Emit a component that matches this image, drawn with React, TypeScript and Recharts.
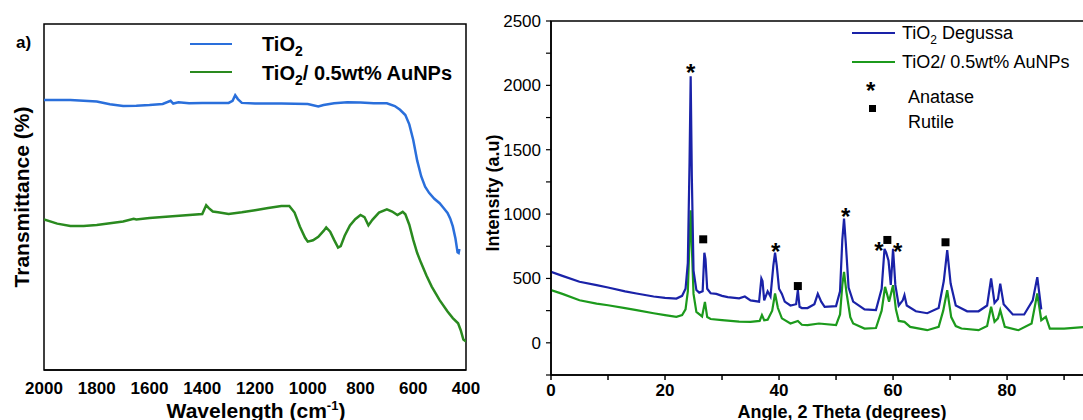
import React from 'react';
import {
  LineChart,
  ComposedChart,
  Line,
  Scatter,
  XAxis,
  YAxis,
  ReferenceArea,
} from 'recharts';

// ---- FTIR (left panel) ----
const ftirWaveTiO2 = [2000, 1900, 1800, 1750, 1700, 1650, 1600, 1550, 1520, 1510, 1490, 1450, 1400, 1300, 1285, 1275, 1265, 1250, 1200, 1100, 1000, 960, 940, 900, 850, 800, 750, 700, 670, 650, 630, 615, 600, 585, 570, 555, 540, 520, 500, 485, 470, 460, 450, 440, 432, 428, 425];
const ftirTransTiO2 = [78.0, 78.0, 77.6, 76.8, 76.3, 76.4, 76.6, 76.9, 77.8, 77.0, 77.4, 77.1, 77.2, 77.2, 77.8, 79.4, 78.3, 77.2, 77.0, 77.0, 76.9, 76.2, 76.6, 77.1, 77.4, 77.3, 77.1, 77.1, 76.3, 75.2, 73.7, 71.0, 66.5, 60.5, 56.0, 53.0, 51.2, 49.5, 48.2, 46.8, 45.4, 43.8, 41.5, 38.0, 34.0, 33.8, 35.0];

const ftirWaveAu = [2000, 1950, 1900, 1850, 1800, 1750, 1700, 1660, 1650, 1600, 1500, 1400, 1385, 1375, 1360, 1340, 1300, 1250, 1200, 1150, 1100, 1070, 1050, 1030, 1010, 1000, 980, 960, 940, 930, 915, 900, 885, 875, 860, 840, 820, 800, 785, 770, 755, 730, 700, 680, 660, 640, 630, 615, 600, 585, 570, 550, 530, 500, 470, 450, 430, 420, 410, 400];
const ftirTransAu = [43.5, 42.3, 41.6, 41.6, 41.9, 42.4, 42.9, 43.7, 43.5, 43.9, 44.5, 45.1, 47.6, 46.8, 45.8, 45.6, 45.1, 45.6, 46.2, 46.8, 47.4, 47.4, 45.5, 41.5, 38.2, 37.1, 37.5, 38.5, 40.2, 41.2, 40.0, 37.6, 35.4, 35.8, 38.8, 41.8, 43.6, 44.8, 44.2, 41.8, 43.4, 45.5, 46.4, 45.8, 44.8, 45.7, 45.0, 42.0, 37.6, 33.8, 30.9, 27.3, 24.1, 20.2, 16.9, 15.0, 13.5, 11.5, 8.8, 8.2];

const ftirTicks = [2000, 1800, 1600, 1400, 1200, 1000, 800, 600, 400];

// ---- XRD (right panel) ----
const xrdAngleTiO2 = [0, 2, 5, 8, 10, 13, 15, 18, 20, 22, 23, 23.6, 24.0, 24.3, 24.5, 24.7, 25.0, 25.5, 26.0, 26.6, 26.9, 27.1, 27.4, 28, 29, 30, 31, 33, 34, 35, 36.5, 36.9, 37.1, 37.4, 38, 38.5, 39.0, 39.3, 39.6, 40.0, 40.5, 41, 42, 43.0, 43.3, 43.6, 44, 45, 46.2, 46.8, 47.4, 48, 50, 50.7, 51.1, 51.4, 51.7, 52.2, 53, 55, 57, 58.0, 58.5, 58.8, 59.2, 59.6, 60.0, 60.4, 61, 61.7, 62.0, 62.4, 64, 66, 68, 68.9, 69.5, 70.1, 71, 73, 75, 76.5, 77.2, 77.8, 78.4, 78.8, 79.4, 81, 83, 84.5, 85.3, 86];
const xrdIntTiO2 = [551, 520, 474, 448, 430, 400, 383, 360, 349, 344, 365, 420, 620, 1400, 2070, 1300, 560, 410, 390, 400, 700, 650, 420, 385, 380, 365, 355, 345, 360, 330, 320, 500, 480, 330, 400, 360, 600, 700, 600, 420, 380, 320, 290, 300, 410, 280, 270, 270, 300, 380, 320, 280, 285, 400, 800, 965, 780, 430, 320, 260, 255, 420, 730, 700, 640, 450, 730, 450, 290, 330, 370, 290, 245, 230, 270, 480, 720, 460, 290, 245, 245, 290, 500, 310, 340, 460, 300, 220, 220, 330, 510, 260];

const xrdAngleAu = [0, 2, 5, 8, 10, 13, 15, 18, 20, 22, 23, 23.6, 24.0, 24.3, 24.5, 24.7, 25.0, 25.5, 26.5, 27.0, 27.4, 28, 30, 33, 35, 36.6, 37.0, 37.4, 38, 38.8, 39.3, 39.8, 40.5, 42, 43.3, 44, 45, 47, 50, 50.7, 51.1, 51.4, 51.8, 52.5, 53, 55, 57, 58.0, 58.6, 59.3, 60.0, 60.5, 61, 62, 63, 66, 68, 68.8, 69.5, 70.2, 71, 72, 75, 76.5, 77.2, 77.8, 78.4, 78.8, 79.6, 82, 84.3, 85.3, 86, 86.8, 87.5, 90, 94];
const xrdIntAu = [409, 380, 331, 305, 292, 270, 254, 230, 215, 202, 215, 260, 400, 800, 1030, 750, 380, 240, 205, 318, 200, 185, 176, 165, 163, 170, 215, 175, 180, 250, 383, 270, 190, 150, 170, 140, 137, 150, 137, 220, 450, 551, 400, 200, 150, 111, 115, 250, 435, 320, 448, 260, 170, 163, 124, 98, 124, 250, 409, 200, 130, 111, 98, 130, 280, 163, 190, 254, 124, 98, 150, 383, 176, 202, 111, 111, 124];

const anataseAngle = [24.5, 39.4, 51.7, 57.5, 60.8];
const anataseInt = [2135, 747, 1020, 754, 747];
const rutileAngle = [26.7, 43.3, 59.0, 69.2];
const rutileInt = [804, 441, 799, 781];

const xrdYTicks = [-250, 0, 250, 500, 750, 1000, 1250, 1500, 1750, 2000, 2250, 2500];
const xrdXTicks = [0, 10, 20, 30, 40, 50, 60, 70, 80, 90];

const zip = (xs: number[], ys: number[]) => xs.map((x, i) => ({ x, y: ys[i] }));

const ftirTiO2 = zip(ftirWaveTiO2, ftirTransTiO2);
const ftirAu = zip(ftirWaveAu, ftirTransAu);
const xrdTiO2 = zip(xrdAngleTiO2, xrdIntTiO2);
const xrdAu = zip(xrdAngleAu, xrdIntAu);
const anatase = zip(anataseAngle, anataseInt);
const rutile = zip(rutileAngle, rutileInt);

const FONT = '"Liberation Sans", Arial, sans-serif';

const StarShape = (props: any) => {
  const { cx, cy } = props;
  return (
    <text x={cx} y={cy + 13} textAnchor="middle" fontSize={24} fontWeight={700} fill="#000" fontFamily={FONT}>
      *
    </text>
  );
};

const SquareShape = (props: any) => {
  const { cx, cy } = props;
  return <rect x={cx - 4} y={cy - 4} width={8} height={8} fill="#000" />;
};

const FtirLegend = () => (
  <div style={{ position: 'absolute', left: 190, top: 30, width: 290, height: 60, fontWeight: 700, fontSize: 20, color: '#000' }}>
    <div style={{ position: 'absolute', left: 0, top: 13, width: 42, height: 2, background: '#2a6fdb' }} />
    <div style={{ position: 'absolute', left: 72, top: 0, lineHeight: '28px', whiteSpace: 'nowrap' }}>
      TiO<sub style={{ fontSize: 14 }}>2</sub>
    </div>
    <div style={{ position: 'absolute', left: 0, top: 41, width: 42, height: 2, background: '#2a8a1f' }} />
    <div style={{ position: 'absolute', left: 72, top: 29, lineHeight: '28px', whiteSpace: 'nowrap' }}>
      TiO<sub style={{ fontSize: 14 }}>2</sub>/ 0.5wt% AuNPs
    </div>
  </div>
);

const XrdLegend = () => (
  <div style={{ position: 'absolute', left: 372, top: 20, width: 260, height: 115, fontSize: 18, color: '#000' }}>
    <div style={{ position: 'absolute', left: 0, top: 12, width: 43, height: 2, background: '#1a22a8' }} />
    <div style={{ position: 'absolute', left: 50, top: 0, lineHeight: '26px', whiteSpace: 'nowrap' }}>
      TiO<sub style={{ fontSize: 12 }}>2</sub> Degussa
    </div>
    <div style={{ position: 'absolute', left: 0, top: 41, width: 43, height: 2, background: '#1c9a1c' }} />
    <div style={{ position: 'absolute', left: 50, top: 29, lineHeight: '26px', whiteSpace: 'nowrap' }}>
      TiO2/ 0.5wt% AuNPs
    </div>
    <div style={{ position: 'absolute', left: 14, top: 58, fontSize: 24, fontWeight: 700, lineHeight: '26px' }}>*</div>
    <div style={{ position: 'absolute', left: 56, top: 65, lineHeight: '24px' }}>Anatase</div>
    <div style={{ position: 'absolute', left: 17, top: 85, width: 7, height: 7, background: '#000' }} />
    <div style={{ position: 'absolute', left: 56, top: 90, lineHeight: '24px' }}>Rutile</div>
  </div>
);

const boldTick = { fontSize: 17, fontWeight: 700, fill: '#000', fontFamily: FONT };

const App: React.FC = () => {
  return (
    <div style={{ position: 'absolute', left: 0, top: 0, width: 1083, height: 420, overflow: 'hidden', background: '#fff', fontFamily: FONT }}>
      {/* Left panel: FTIR */}
      <div style={{ position: 'absolute', left: 0, top: 0, width: 480, height: 420 }}>
        <LineChart width={480} height={420} margin={{ top: 24, right: 14, left: 44, bottom: 0 }}>
          <XAxis
            dataKey="x"
            type="number"
            domain={[400, 2000]}
            reversed
            ticks={ftirTicks}
            tickLine={false}
            tickSize={0}
            tickMargin={12}
            height={50}
            axisLine={{ stroke: '#000', strokeWidth: 1.5 }}
            tick={boldTick}
            allowDataOverflow
          />
          <YAxis type="number" dataKey="y" domain={[0, 100]} hide allowDataOverflow />
          <ReferenceArea x1={2000} x2={400} y1={0} y2={100} fill="none" stroke="#000" strokeWidth={1.5} ifOverflow="visible" />
          <Line data={ftirTiO2} dataKey="y" type="linear" stroke="#2a6fdb" strokeWidth={2.5} dot={false} isAnimationActive={false} />
          <Line data={ftirAu} dataKey="y" type="linear" stroke="#2a8a1f" strokeWidth={2.5} dot={false} isAnimationActive={false} />
        </LineChart>
        <FtirLegend />
        <div style={{ position: 'absolute', left: 16, top: 31, fontSize: 17, fontWeight: 700, lineHeight: '24px' }}>a)</div>
        <div
          style={{
            position: 'absolute',
            left: 22,
            top: 197,
            transform: 'translate(-50%, -50%) rotate(-90deg)',
            fontSize: 21,
            fontWeight: 700,
            whiteSpace: 'nowrap',
          }}
        >
          Transmittance (%)
        </div>
        <div
          style={{
            position: 'absolute',
            left: 256,
            top: 410,
            transform: 'translate(-50%, -50%)',
            fontSize: 21,
            fontWeight: 700,
            whiteSpace: 'nowrap',
          }}
        >
          Wavelength (cm<sup style={{ fontSize: 13 }}>-1</sup>)
        </div>
      </div>

      {/* Right panel: XRD */}
      <div style={{ position: 'absolute', left: 480, top: 0, width: 620, height: 420 }}>
        <ComposedChart width={620} height={420} margin={{ top: 21, right: 0, left: 0, bottom: 0 }}>
          <XAxis
            dataKey="x"
            type="number"
            domain={[0, 96.3]}
            ticks={xrdXTicks}
            tickFormatter={(v: number) => (v % 20 === 0 ? String(v) : '')}
            tickSize={5}
            tickMargin={4}
            height={45}
            axisLine={{ stroke: '#000', strokeWidth: 1.5 }}
            tickLine={{ stroke: '#000', strokeWidth: 1.5 }}
            tick={boldTick}
            allowDataOverflow
          />
          <YAxis
            dataKey="y"
            type="number"
            domain={[-250, 2500]}
            ticks={xrdYTicks}
            tickFormatter={(v: number) => (v % 500 === 0 ? String(v) : '')}
            width={71}
            tickSize={5}
            tickMargin={5}
            axisLine={{ stroke: '#000', strokeWidth: 1.5 }}
            tickLine={{ stroke: '#000', strokeWidth: 1.2 }}
            tick={{ fontSize: 17, fill: '#000', fontFamily: FONT }}
            allowDataOverflow
          />
          <ReferenceArea x1={0} x2={96.3} y1={-250} y2={2500} fill="none" stroke="#000" strokeWidth={1.5} ifOverflow="visible" />
          <Line data={xrdAu} dataKey="y" type="linear" stroke="#1c9a1c" strokeWidth={2.2} dot={false} isAnimationActive={false} />
          <Line data={xrdTiO2} dataKey="y" type="linear" stroke="#1a22a8" strokeWidth={2.2} dot={false} isAnimationActive={false} />
          <Scatter data={anatase} dataKey="y" shape={StarShape} isAnimationActive={false} />
          <Scatter data={rutile} dataKey="y" shape={SquareShape} isAnimationActive={false} />
        </ComposedChart>
        <XrdLegend />
        <div
          style={{
            position: 'absolute',
            left: 13,
            top: 193,
            transform: 'translate(-50%, -50%) rotate(-90deg)',
            fontSize: 18,
            fontWeight: 700,
            whiteSpace: 'nowrap',
          }}
        >
          Intensity (a.u)
        </div>
        <div
          style={{
            position: 'absolute',
            left: 362,
            top: 412,
            transform: 'translate(-50%, -50%)',
            fontSize: 18,
            fontWeight: 700,
            whiteSpace: 'nowrap',
          }}
        >
          Angle, 2 Theta (degrees)
        </div>
      </div>
    </div>
  );
};

export default App;
